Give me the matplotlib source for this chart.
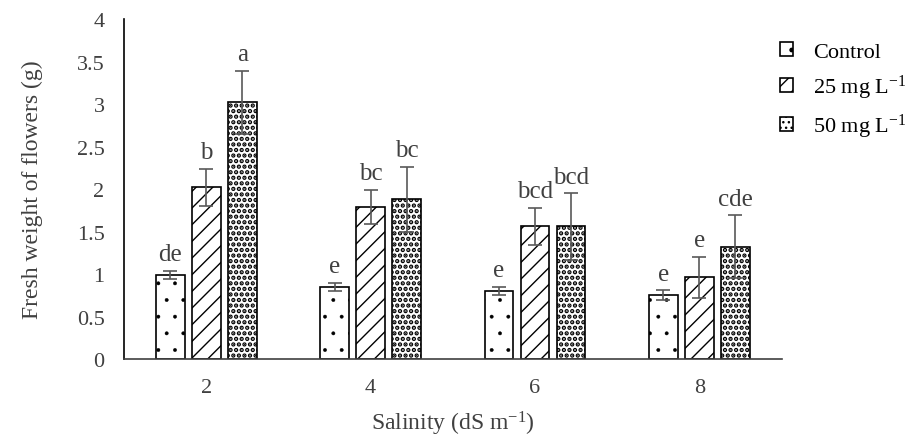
import matplotlib
matplotlib.use("Agg")
import matplotlib.pyplot as plt
import numpy as np

plt.rcParams['font.family'] = ['Liberation Serif', 'DejaVu Serif']
plt.rcParams['mathtext.fontset'] = 'custom'
plt.rcParams['mathtext.rm'] = 'Liberation Serif'
plt.rcParams['mathtext.it'] = 'Liberation Serif:italic'
plt.rcParams['hatch.linewidth'] = 1.0

salinity = ["2", "4", "6", "8"]
treatments = ["Control", "25 mg L$^{-1}$", "50 mg L$^{-1}$"]

control = [0.99, 0.85, 0.80, 0.75]
mg25 = [2.02, 1.79, 1.56, 0.96]
mg50 = [3.02, 1.88, 1.56, 1.32]

control_err = [0.05, 0.05, 0.05, 0.06]
mg25_err = [0.22, 0.20, 0.22, 0.24]
mg50_err = [0.37, 0.38, 0.39, 0.37]

control_lbl = ["de", "e", "e", "e"]
mg25_lbl = ["b", "bc", "bcd", "e"]
mg50_lbl = ["a", "bc", "bcd", "cde"]

values = [control, mg25, mg50]
errors = [control_err, mg25_err, mg50_err]
letters = [control_lbl, mg25_lbl, mg50_lbl]
hatches = [".", "//", "..."]
hatch_lw = [0.3, 1.0, 2.2]

fig = plt.figure(figsize=(9.12, 4.39), dpi=100)
ax = fig.add_axes([0.136, 0.180, 0.721, 0.774])

x = np.arange(len(salinity))
width = 0.176
step = 0.219

for i in range(3):
    pos = x + (i - 1) * step
    bars = ax.bar(pos, values[i], width, color="white", edgecolor="black",
                  linewidth=1.2, hatch=hatches[i], label=treatments[i])
    for b in bars:
        b.set_hatch_linewidth(hatch_lw[i])
    ax.errorbar(pos, values[i], yerr=errors[i], fmt="none",
                ecolor="#595959", elinewidth=1.2, capsize=5, capthick=1.2)
    for j in range(len(salinity)):
        ax.annotate(letters[i][j], (pos[j], values[i][j] + errors[i][j]),
                    xytext=(0, 4), textcoords="offset points",
                    ha="center", va="bottom", fontsize=18, color="#404040")

ax.set_xlim(-0.5, 3.5)
ax.set_ylim(0, 4)
ax.set_yticks(np.arange(0, 4.01, 0.5))
ax.set_yticklabels(["0", "0.5", "1", "1.5", "2", "2.5", "3", "3.5", "4"])
ax.set_xticks(x)
ax.set_xticklabels(salinity)
ax.tick_params(length=0, pad=14, labelsize=16, colors="#404040")
ax.spines["top"].set_visible(False)
ax.spines["right"].set_visible(False)
ax.spines["left"].set_linewidth(1.2)
ax.spines["bottom"].set_linewidth(1.2)
ax.spines["bottom"].set_color("#404040")

ax.set_ylabel("Fresh weight of flowers (g)", fontsize=17, color="#404040", labelpad=24)
ax.set_xlabel("Salinity (dS m$^{-1}$)", fontsize=17, color="#404040", labelpad=8)

fig.legend(loc="upper left", bbox_to_anchor=(0.833, 0.948), frameon=False,
           fontsize=16, handlelength=0.6, handleheight=0.6, handletextpad=0.9,
           labelspacing=0.5)

fig.savefig("out.png", dpi=100)
